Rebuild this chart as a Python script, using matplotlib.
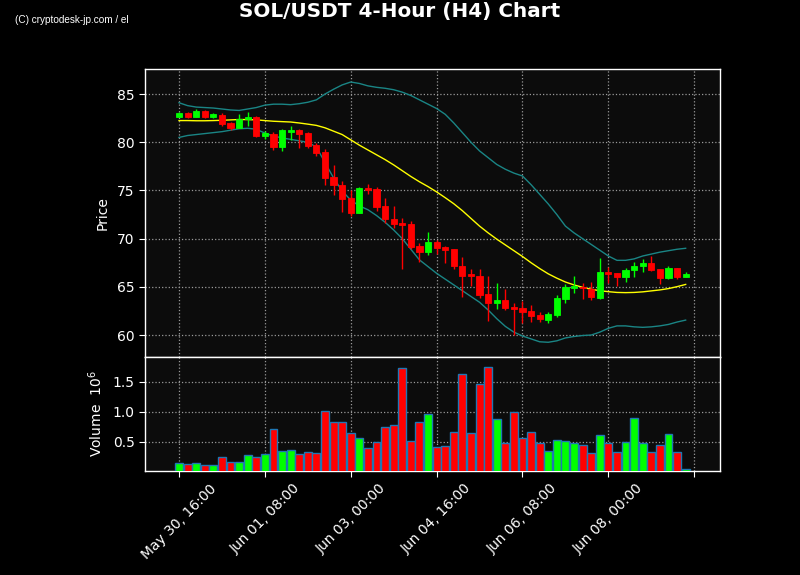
import matplotlib
matplotlib.use("Agg")
import matplotlib.pyplot as plt
import numpy as np
import pandas as pd
from matplotlib.ticker import FuncFormatter, MultipleLocator

# ---------------- data ----------------
start_time = "2024-05-30 16:00"
n_candles = 60
opens = [82.65, 83.0, 82.65, 83.25, 82.6, 82.8, 81.95, 81.5, 82.4, 82.6,
         80.7, 80.9, 79.5, 81.05, 81.25, 80.95, 79.72, 79.0, 76.36, 75.58,
         74.2, 72.7, 75.27, 75.14, 73.4, 72.02, 71.6, 71.5, 69.22, 68.66,
         69.68, 69.1, 68.9, 67.16, 66.3, 66.1, 64.25, 63.36, 63.6, 62.9,
         62.8, 62.5, 62.07, 61.58, 62.08, 63.7, 64.9, 65.02, 64.75, 63.82,
         66.52, 66.4, 66.05, 66.7, 67.2, 67.45, 66.85, 65.95, 66.95, 66.05]
highs = [83.1, 83.15, 83.4, 83.3, 83.0, 83.0, 82.05, 82.9, 83.1, 82.75,
         81.15, 81.05, 81.4, 81.65, 81.35, 81.05, 79.95, 79.3, 77.68, 76.0,
         75.0, 75.4, 75.7, 75.35, 74.25, 73.4, 72.1, 71.8, 69.5, 70.7,
         69.85, 69.2, 68.95, 68.05, 66.85, 66.9, 66.1, 65.35, 64.8, 63.3,
         63.5, 63.1, 62.4, 62.4, 64.2, 65.3, 66.1, 65.36, 65.5, 67.96,
         67.1, 66.45, 67.0, 67.6, 67.85, 68.2, 66.9, 67.2, 66.95, 66.5]
lows = [82.6, 82.5, 82.6, 82.5, 82.5, 81.7, 81.3, 81.45, 81.7, 80.55,
        80.38, 79.2, 79.12, 80.25, 79.4, 79.4, 78.6, 75.55, 74.5, 72.75,
        72.3, 72.65, 74.65, 72.9, 71.6, 71.15, 66.8, 68.9, 67.55, 68.3,
        68.4, 67.5, 66.9, 63.9, 65.1, 63.8, 61.45, 62.65, 62.6, 60.0,
        61.2, 61.4, 61.4, 61.3, 61.9, 63.3, 64.4, 63.7, 63.6, 63.7,
        65.4, 65.05, 65.5, 66.0, 66.5, 66.6, 65.3, 65.8, 65.8, 66.05]
closes = [83.02, 82.65, 83.25, 82.6, 82.88, 81.86, 81.5, 82.4, 82.6, 80.7,
          80.92, 79.48, 81.3, 81.25, 80.9, 79.63, 78.92, 76.32, 75.52, 74.15,
          72.68, 75.22, 75.0, 73.3, 72.02, 71.52, 71.42, 69.1, 68.64, 69.68,
          69.07, 68.87, 67.12, 66.15, 66.1, 64.2, 63.36, 63.62, 62.82, 62.72,
          62.42, 62.02, 61.64, 62.2, 63.85, 65.0, 65.1, 64.88, 63.9, 66.52,
          66.32, 66.05, 66.75, 67.2, 67.47, 66.77, 65.96, 66.95, 66.05, 66.33]
volumes = [145000, 128000, 145000, 105000, 105000, 245000, 160000, 160000, 280000, 245000,
           295000, 710000, 345000, 360000, 295000, 328000, 310000, 1010000, 830000, 830000,
           645000, 560000, 395000, 495000, 745000, 780000, 1730000, 510000, 830000, 960000,
           410000, 430000, 660000, 1630000, 645000, 1460000, 1740000, 880000, 478000, 995000,
           560000, 660000, 478000, 345000, 528000, 510000, 478000, 445000, 310000, 610000,
           478000, 328000, 495000, 895000, 478000, 328000, 445000, 628000, 328000, 45000]
bb_mid = [82.25, 82.25, 82.23, 82.23, 82.25, 82.28, 82.32, 82.36, 82.35, 82.32,
          82.25, 82.18, 82.14, 82.1, 82.0, 81.88, 81.75, 81.5, 81.15, 80.8,
          80.25, 79.7, 79.2, 78.7, 78.2, 77.65, 77.05, 76.45, 75.9, 75.4,
          74.85, 74.25, 73.62, 72.9, 72.1, 71.3, 70.6, 69.95, 69.35, 68.75,
          68.15, 67.5, 66.9, 66.35, 65.9, 65.5, 65.2, 64.95, 64.75, 64.6,
          64.5, 64.42, 64.4, 64.42, 64.48, 64.58, 64.68, 64.82, 65.02, 65.25]
bb_upper = [84.1, 83.8, 83.65, 83.6, 83.55, 83.45, 83.35, 83.3, 83.45, 83.6,
            83.85, 83.95, 83.95, 83.9, 84.0, 84.15, 84.4, 85.0, 85.5, 85.95,
            86.25, 86.1, 85.85, 85.7, 85.6, 85.45, 85.2, 84.85, 84.4, 83.95,
            83.5, 82.9, 82.0, 81.0, 80.0, 79.1, 78.4, 77.7, 77.2, 76.8,
            76.5, 75.6, 74.6, 73.6, 72.5, 71.3, 70.6, 70.0, 69.4, 68.8,
            68.2, 67.75, 67.75, 67.9, 68.2, 68.4, 68.6, 68.75, 68.9, 69.0]
bb_lower = [80.5, 80.7, 80.8, 80.9, 81.0, 81.1, 81.25, 81.4, 81.45, 81.35,
            80.95, 80.65, 80.45, 80.3, 80.15, 80.0, 79.5, 77.9, 76.3, 74.95,
            74.0, 73.4, 73.0, 72.4, 71.7, 70.9, 70.0, 68.9, 67.8, 67.1,
            66.4, 65.8, 65.2, 64.6, 64.0, 63.4, 62.6, 61.7, 60.9, 60.3,
            59.9, 59.6, 59.3, 59.25, 59.4, 59.7, 59.85, 59.95, 60.0, 60.3,
            60.7, 60.95, 60.95, 60.85, 60.8, 60.85, 60.95, 61.1, 61.35, 61.55]

title = "SOL/USDT 4-Hour (H4) Chart"
credit = "(C) cryptodesk-jp.com / el"

# ---------------- styling ----------------
UP = "#00ff00"
DOWN = "#ff0000"
BG = "#000000"
AXBG = "#0c0c0c"
GRID = "#9a9a9a"
BAND = "#1a8585"
MID = "#ffff00"

dates = pd.date_range(start_time, periods=n_candles, freq="4h")
x = np.arange(n_candles)
o = np.array(opens); h = np.array(highs); l = np.array(lows); c = np.array(closes)
v = np.array(volumes) / 1e6
up = c >= o
colors = np.where(up, UP, DOWN)

fig = plt.figure(figsize=(8, 5.75), dpi=100, facecolor=BG)
ax = fig.add_axes([0.18125, 0.3791, 0.71875, 0.5009])
axv = fig.add_axes([0.18125, 0.1809, 0.71875, 0.1982], sharex=ax)

for a in (ax, axv):
    a.set_facecolor(AXBG)
    for s in a.spines.values():
        s.set_color("white")
        s.set_linewidth(1.0)
    a.tick_params(colors="white", labelsize=10, length=4)
    a.grid(True, color=GRID, linestyle=":", linewidth=0.9)
    a.set_axisbelow(True)

# candles
body_w = 0.72
ax.vlines(x, l, h, colors=colors, linewidth=1.0, zorder=3)
ax.bar(x, np.abs(c - o), bottom=np.minimum(o, c), width=body_w,
       color=colors, edgecolor=colors, linewidth=0.6, zorder=4)

# bollinger
ax.plot(x, bb_upper, color=BAND, linewidth=1.0, zorder=2)
ax.plot(x, bb_lower, color=BAND, linewidth=1.0, zorder=2)
ax.plot(x, bb_mid, color=MID, linewidth=1.0, zorder=2)

ax.set_ylim(57.72, 87.6)
ax.yaxis.set_major_locator(MultipleLocator(5))
ax.set_ylabel("Price", color="white", fontsize=10)
ax.tick_params(axis="x", labelbottom=False)

# volume
axv.bar(x, v, width=0.92, color=colors, edgecolor="#1f77b4", linewidth=1.0, zorder=3)
axv.set_ylim(0.3 * v.min(), 1.1 * v.max())
axv.yaxis.set_major_locator(MultipleLocator(0.5))
axv.yaxis.set_major_formatter(FuncFormatter(lambda val, p: f"{val:.1f}"))
axv.set_ylabel("Volume  $10^{6}$", color="white", fontsize=10)

axv.set_xlim(-3.96, 63.0)
axv.xaxis.set_major_locator(MultipleLocator(10))

def fmt(val, pos):
    i = int(round(val))
    if 0 <= i < n_candles:
        return dates[i].strftime("%b %d, %H:%M")
    return ""

axv.xaxis.set_major_formatter(FuncFormatter(fmt))
axv.tick_params(axis="x", rotation=45)

ax.yaxis.set_label_coords(-0.062, 0.5)
axv.yaxis.set_label_coords(-0.069, 0.5)

fig.text(0.5, 1 - 11 / 575, title, color="white", fontsize=14.4, fontweight="bold",
         ha="center", va="center")
fig.text(15 / 800, 1 - 20 / 575, credit, color="white", fontsize=7.2,
         family="Liberation Sans", ha="left", va="center")

fig.savefig("out.png", dpi=100, facecolor=BG)
